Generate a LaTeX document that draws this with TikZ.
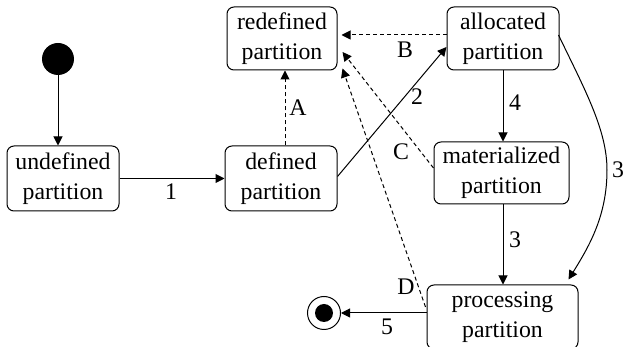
\documentclass[tikz,border=0pt]{standalone}
\usepackage{fontspec}
\setmainfont{Liberation Serif}
\newfontfamily\tnr{Liberation Serif}
\usetikzlibrary{arrows.meta,calc}
\begin{document}
\begin{tikzpicture}[x=0.5pt,y=-0.5pt,
  state/.style={draw,rounded corners=3.5pt,align=center,inner sep=0pt,font=\tnr\fontsize{11.9pt}{15pt}\selectfont,line width=0.5pt},
  tr/.style={line width=0.5pt,-{Triangle[length=4.5pt,width=4.5pt]}},
  dtr/.style={tr,dash pattern=on 2pt off 1.5pt},
  lbl/.style={font=\tnr\fontsize{11.9pt}{15pt}\selectfont,inner sep=0pt}]
\useasboundingbox (0,0) rectangle (623,347);
% states
\node[circle,fill,minimum size=16pt,inner sep=0pt] (init) at (58,59) {};
\node[state,minimum width=56pt,minimum height=32.5pt] (undef) at (63,178.5) {undefined\\partition};
\node[state,minimum width=56pt,minimum height=32.5pt] (def) at (281,178.5) {defined\\partition};
\node[state,minimum width=55pt,minimum height=31.5pt] (redef) at (282,38.5) {redefined\\partition};
\node[state,minimum width=56pt,minimum height=31.5pt] (alloc) at (503,38.5) {allocated\\partition};
\node[state,minimum width=67.5pt,minimum height=31pt] (mat) at (501.5,173) {materialized\\partition};
\node[state,minimum width=75.5pt,minimum height=32pt] (proc) at (502.5,317) {processing\\partition};
\node[circle,draw,line width=0.5pt,minimum size=16.5pt,inner sep=0pt] (final) at (324,313) {};
\fill (final.center) circle (4.5pt);
% transitions
\draw[tr] (init) -- (init |- undef.north);
\draw[tr] (undef.east) -- (def.west);
\draw[dtr] ($(def.north)+(4,0)$) -- ($(redef.south)+(3,0)$);
\draw[tr] ($(def.east)+(0,-2)$) -- ($(alloc.west)+(0,8.5)$);
\draw[dtr] ($(alloc.west)+(0,-3.5)$) -- ($(redef.east)+(4,-3.5)$);
\draw[dtr] ($(mat.west)+(0,-5)$) -- ($(redef.east)+(5,13.5)$);
\draw[dtr] ($(proc.west)+(-1,-10)$) -- ($(redef.south east)+(5,-2)$);
\draw[tr] (alloc.south) -- (alloc.south |- mat.north);
\draw[tr] (alloc.south |- mat.south) -- (alloc.south |- proc.north);
\draw[tr] ($(alloc.east)+(-1,-3.5)$) .. controls (585,90) and (607,130) .. (607,170)
  .. controls (607,215) and (590,245) .. ($(proc.north east)+(-10,-5)$);
\draw[tr] ($(proc.west)+(0,-4)$) -- (final);
% labels
\node[lbl] (l1) at (171,192) {1};
\node[lbl] (lA) at (298,108) {A};
\node[lbl] (l2) at (417,97) {2};
\node[lbl] (lB) at (405,50) {B};
\node[lbl] (l4) at (515,103) {4};
\node[lbl] (lC) at (401,152) {C};
\node[lbl] (l3a) at (515,240) {3};
\node[lbl] (l3b) at (618,170) {3};
\node[lbl] (lD) at (406,287) {D};
\node[lbl] (l5) at (387,327) {5};
\end{tikzpicture}
\end{document}
